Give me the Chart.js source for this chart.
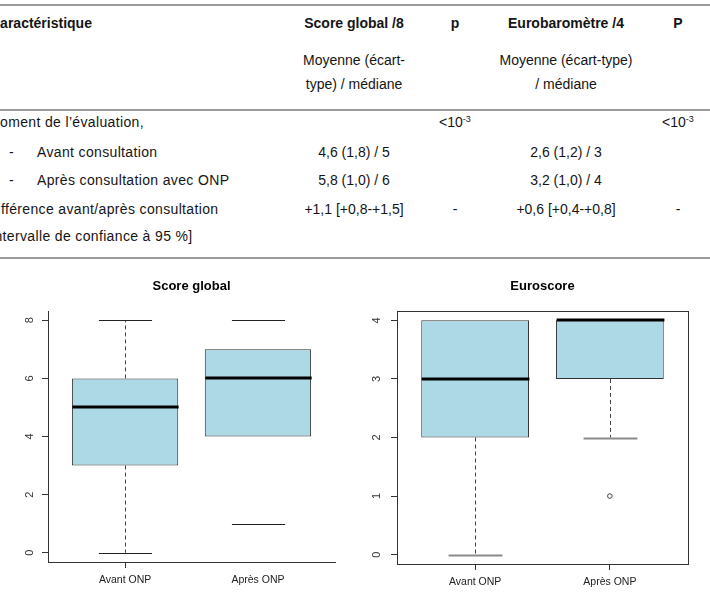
<!DOCTYPE html>
<html>
<head>
<meta charset="utf-8">
<script src="https://cdn.jsdelivr.net/npm/chart.js@4"></script>
<style>
  html, body { margin: 0; padding: 0; background: #fff; }
  body { width: 710px; height: 601px; position: relative; overflow: hidden;
         font-family: "Liberation Sans", Arial, sans-serif; font-size: 14px; color: #151515; }
  .rule { position: absolute; left: 0; width: 710px; height: 2px; background: #9a9a9a; }
  .t { position: absolute; white-space: nowrap; line-height: 16px; transform: translateY(-50%); }
  .l { letter-spacing: 0.35px; }
  .c { transform: translate(-50%, -50%); }
  .b { font-weight: bold; }
  sup { font-size: 9px; vertical-align: 5px; line-height: 0; }
  canvas { position: absolute; top: 265px; }
</style>
</head>
<body>

<!-- tableau -->
<div class="rule" style="top:4px"></div>
<div class="rule" style="top:109px"></div>
<div class="rule" style="top:257px"></div>

<div class="t b" style="left:-10px; top:23px">Caractéristique</div>
<div class="t b c" style="left:354px; top:23px">Score global /8</div>
<div class="t b c" style="left:455px; top:23px">p</div>
<div class="t b c" style="left:566px; top:23px">Eurobaromètre /4</div>
<div class="t b c" style="left:678px; top:23px">P</div>

<div class="t c" style="left:354px; top:60px">Moyenne (écart-</div>
<div class="t c" style="left:354px; top:84px">type) / médiane</div>
<div class="t c" style="left:566px; top:60px">Moyenne (écart-type)</div>
<div class="t c" style="left:566px; top:84px">/ médiane</div>

<div class="t l" style="left:-12px; top:122px">Moment de l’évaluation,</div>
<div class="t c" style="left:455px; top:122px">&lt;10<sup>-3</sup></div>
<div class="t c" style="left:678px; top:122px">&lt;10<sup>-3</sup></div>

<div class="t" style="left:9px; top:152px">-</div>
<div class="t l" style="left:37px; top:152px">Avant consultation</div>
<div class="t c" style="left:354px; top:152px">4,6 (1,8) / 5</div>
<div class="t c" style="left:566px; top:152px">2,6 (1,2) / 3</div>

<div class="t" style="left:9px; top:180px">-</div>
<div class="t l" style="left:37px; top:180px">Après consultation avec ONP</div>
<div class="t c" style="left:354px; top:180px">5,8 (1,0) / 6</div>
<div class="t c" style="left:566px; top:180px">3,2 (1,0) / 4</div>

<div class="t l" style="left:-13px; top:209px">Différence avant/après consultation</div>
<div class="t c" style="left:354px; top:209px">+1,1 [+0,8-+1,5]</div>
<div class="t c" style="left:455px; top:209px">-</div>
<div class="t c" style="left:566px; top:209px">+0,6 [+0,4-+0,8]</div>
<div class="t c" style="left:678px; top:209px">-</div>
<div class="t l" style="left:-14px; top:236px">[Intervalle de confiance à 95 %]</div>

<canvas id="chartScore" width="355" height="336" style="left:0"></canvas>
<canvas id="chartEuro" width="355" height="336" style="left:355px"></canvas>

<script>
// --- DONNÉES ---
const categories = ['Avant ONP', 'Après ONP'];

// Score global /8
const scoreMin = [0, 1];
const scoreQ1 = [3, 4];
const scoreMed = [5, 6];
const scoreQ3 = [6, 7];
const scoreMax = [8, 8];
const scoreTicks = [0, 2, 4, 6, 8];

// Euroscore /4
const euroMin = [0, 2];
const euroQ1 = [2, 3];
const euroMed = [3, 4];
const euroQ3 = [4, 4];
const euroMax = [4, 4];
const euroOutliers = [[], [1]];
const euroTicks = [0, 1, 2, 3, 4];

const FONT = '"Liberation Sans", Arial, sans-serif';

// plugin : moustaches, médianes, titre, cadre
const boxPlugin = {
  id: 'boxplot',
  afterDatasetsDraw(chart, args, opts) {
    const ctx = chart.ctx;
    const x = chart.scales.x, y = chart.scales.y;
    const area = chart.chartArea;
    const boxW = x.getPixelForValue(1.4) - x.getPixelForValue(0.6); // largeur 0.8
    const capW = boxW / 2;
    ctx.save();
    opts.min.forEach((mn, i) => {
      const cx = Math.round(x.getPixelForValue(i + 1)) + 0.5;
      // moustaches
      if (opts.showWhisker[i]) {
        ctx.strokeStyle = '#444';
        ctx.lineWidth = 1;
        ctx.setLineDash([4, 3]);
        ctx.beginPath();
        ctx.moveTo(cx, y.getPixelForValue(opts.q3[i]));
        ctx.lineTo(cx, y.getPixelForValue(opts.max[i]));
        ctx.moveTo(cx, y.getPixelForValue(opts.q1[i]));
        ctx.lineTo(cx, y.getPixelForValue(mn));
        ctx.stroke();
      }
      ctx.setLineDash([]);
      // extrémités
      ctx.strokeStyle = opts.capColor;
      ctx.lineWidth = opts.capWidth;
      ctx.beginPath();
      [mn, opts.max[i]].forEach(v => {
        if (v === opts.q3[i] && opts.frame) return; // cachée sous le bord de la boîte
        const py = Math.round(y.getPixelForValue(v)) + 0.5;
        ctx.moveTo(cx - capW / 2, py);
        ctx.lineTo(cx + capW / 2, py);
      });
      ctx.stroke();
      // médiane
      ctx.strokeStyle = '#000';
      ctx.lineWidth = 3;
      ctx.beginPath();
      const pm = Math.round(y.getPixelForValue(opts.med[i]));
      ctx.moveTo(cx - boxW / 2, pm);
      ctx.lineTo(cx + boxW / 2, pm);
      ctx.stroke();
    });
    if (opts.frame) {
      ctx.strokeStyle = '#333';
      ctx.lineWidth = 1;
      ctx.strokeRect(Math.round(area.left) + 0.5, Math.round(area.top) + 0.5,
                     Math.round(area.right - area.left), Math.round(area.bottom - area.top));
    }
    // titre
    ctx.fillStyle = '#000';
    ctx.font = 'bold 13px ' + FONT;
    ctx.textAlign = 'center';
    ctx.textBaseline = 'middle';
    ctx.fillText(opts.title, (area.left + area.right) / 2, 21);
    ctx.restore();
  }
};

function makeBoxChart(canvasId, cfg) {
  const ctx = document.getElementById(canvasId).getContext('2d');
  const boxes = cfg.q1.map((q, i) => ({ x: i + 1, y: [q, cfg.q3[i]] }));
  const outliers = [];
  (cfg.outliers || []).forEach((arr, i) => arr.forEach(v => outliers.push({ x: i + 1, y: v })));

  return new Chart(ctx, {
    type: 'bar',
    data: {
      datasets: [{
        data: boxes,
        backgroundColor: '#add8e6',
        borderColor: '#333',
        borderWidth: 1,
        borderSkipped: false,
        categoryPercentage: 1,
        barPercentage: 0.8
      }, {
        type: 'scatter',
        data: outliers,
        pointRadius: 2.3,
        pointBorderWidth: 1,
        pointBorderColor: '#444',
        pointBackgroundColor: 'rgba(0,0,0,0)'
      }]
    },
    options: {
      responsive: false,
      animation: false,
      devicePixelRatio: 1,
      layout: { padding: { top: 46, right: cfg.padRight, left: 0, bottom: 0 } },
      plugins: {
        legend: { display: false },
        tooltip: { enabled: false },
        boxplot: {
          min: cfg.min, q1: cfg.q1, med: cfg.med, q3: cfg.q3, max: cfg.max,
          showWhisker: cfg.showWhisker, capColor: cfg.capColor, capWidth: cfg.capWidth,
          frame: cfg.frame, title: cfg.title
        }
      },
      scales: {
        x: {
          type: 'linear',
          min: 0.42, max: 2.58,
          offset: false,
          afterBuildTicks: axis => { axis.ticks = [{ value: 1 }, { value: 2 }]; },
          afterFit: axis => { axis.height = cfg.xHeight; },
          grid: {
            offset: false,
            drawOnChartArea: false,
            tickLength: 6,
            tickColor: c => cfg.hideTick[c.index] ? 'rgba(0,0,0,0)' : '#333'
          },
          border: { display: true, color: '#333', width: 1 },
          ticks: {
            autoSkip: false,
            padding: 6,
            color: '#222',
            font: { family: FONT, size: 10.5 },
            callback: v => categories[v - 1]
          }
        },
        y: {
          type: 'linear',
          min: cfg.yMin, max: cfg.yMax,
          afterBuildTicks: axis => { axis.ticks = cfg.ticks.map(v => ({ value: v })); },
          afterFit: axis => { axis.width = cfg.yWidth; },
          grid: { drawOnChartArea: false, tickLength: 6, tickColor: '#333' },
          border: { display: true, color: '#333', width: 1 },
          ticks: {
            minRotation: 90, maxRotation: 90,
            crossAlign: 'center',
            padding: cfg.yPad,
            color: '#333',
            font: { family: FONT, size: 11 }
          }
        }
      }
    },
    plugins: [boxPlugin]
  });
}

makeBoxChart('chartScore', {
  title: 'Score global',
  min: scoreMin, q1: scoreQ1, med: scoreMed, q3: scoreQ3, max: scoreMax,
  ticks: scoreTicks, yMin: -0.32, yMax: 8.32,
  showWhisker: [true, false], hideTick: [false, true],
  capColor: '#222', capWidth: 1, frame: false,
  yWidth: 48, padRight: 20, xHeight: 39, yPad: 9
});

makeBoxChart('chartEuro', {
  title: 'Euroscore',
  min: euroMin, q1: euroQ1, med: euroMed, q3: euroQ3, max: euroMax,
  outliers: euroOutliers,
  ticks: euroTicks, yMin: -0.16, yMax: 4.16,
  showWhisker: [true, true], hideTick: [false, false],
  capColor: '#8a8a8a', capWidth: 2, frame: true,
  yWidth: 42, padRight: 22, xHeight: 37, yPad: 11
});
</script>
</body>
</html>
